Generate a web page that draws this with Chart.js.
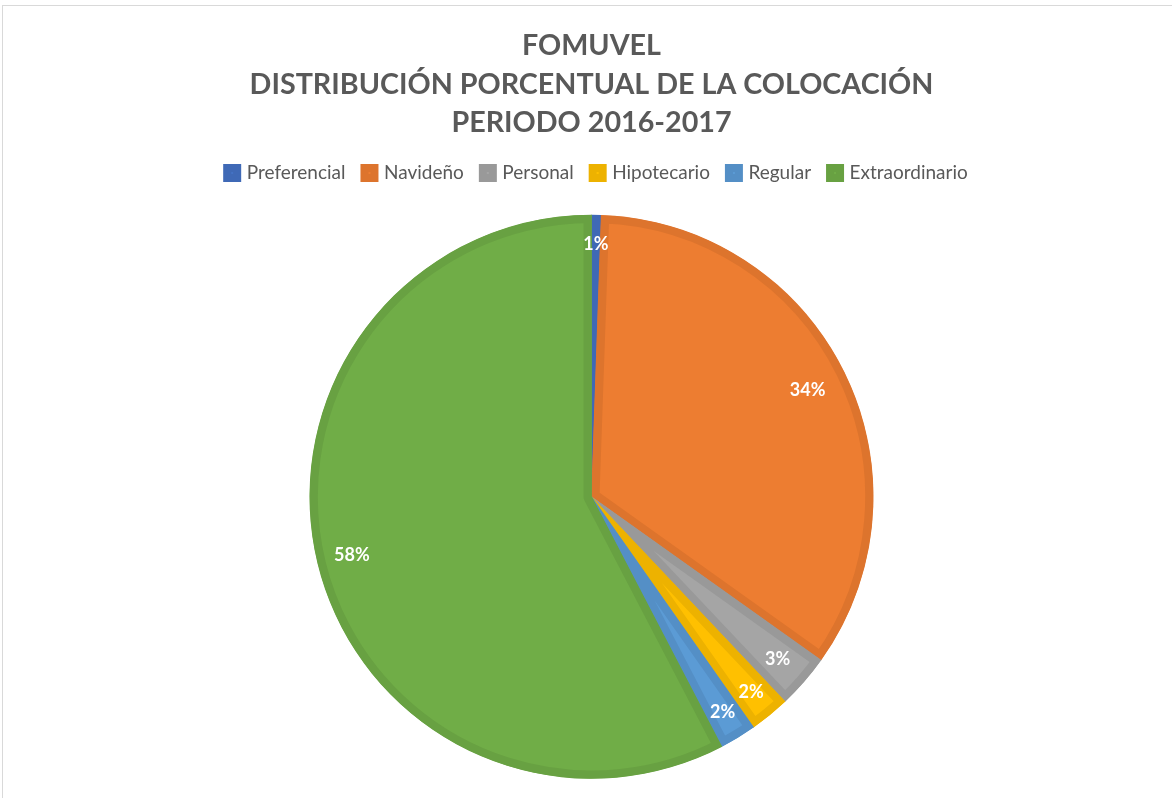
<!DOCTYPE html>
<html>
<head>
<meta charset="utf-8">
<script src="https://cdn.jsdelivr.net/npm/chart.js@4.4.1/dist/chart.umd.min.js"></script>
<style>
  html, body { margin: 0; padding: 0; background: #ffffff; }
  #marco { position: absolute; left: 2px; top: 5px; width: 1300px; height: 900px; border-left: 1px solid #d9d9d9; border-top: 1px solid #d9d9d9; }
  #caja { position: absolute; left: 0; top: 0; width: 1172px; height: 798px; }
</style>
</head>
<body>
<div id="marco"></div>
<div id="caja"><canvas id="grafico" width="1172" height="798"></canvas></div>
<script>
// Datos
const categorias = ['Preferencial', 'Navideño', 'Personal', 'Hipotecario', 'Regular', 'Extraordinario'];
const porcentajes = [0.55, 34.3, 3.1, 2.3, 2.1, 57.65];
const colores = ['#4472C4', '#ED7D31', '#A5A5A5', '#FFC000', '#5B9BD5', '#70AD47'];
const bordes = ['#3F69B6', '#DD742D', '#999999', '#EDB200', '#548FC6', '#68A142'];
const titulo = ['FOMUVEL', 'DISTRIBUCIÓN PORCENTUAL DE LA COLOCACIÓN', 'PERIODO 2016-2017'];

// etiquetas blancas dentro de cada rebanada (las chicas van mas afuera)
const etiquetas = {
  id: 'etiquetas',
  afterDatasetsDraw(chart) {
    const ctx = chart.ctx;
    const meta = chart.getDatasetMeta(0);
    ctx.save();
    ctx.fillStyle = '#ffffff';
    ctx.font = 'bold 18px Lato';
    ctx.textAlign = 'center';
    ctx.textBaseline = 'middle';
    meta.data.forEach(function (arco, i) {
      const p = arco.getProps(['x', 'y', 'startAngle', 'endAngle', 'outerRadius'], true);
      const medio = (p.startAngle + p.endAngle) / 2;
      const v = porcentajes[i];
      const f = v < 3 ? 0.895 : (v > 30 && v < 50 ? 0.855 : 0.875);
      const r = p.outerRadius * f;
      ctx.fillText(Math.round(v) + '%', p.x + Math.cos(medio) * r, p.y + Math.sin(medio) * r);
    });
    ctx.restore();
  }
};

// un poco mas de aire bajo la leyenda y la leyenda algo a la derecha
const ajusteLeyenda = {
  id: 'ajusteLeyenda',
  beforeLayout(chart) {
    const lg = chart.legend;
    if (lg && !lg._ajustado) {
      const fitOriginal = lg.fit;
      lg.fit = function () {
        fitOriginal.call(this);
        this.height += 3;
      };
      lg._ajustado = true;
    }
  },
  afterLayout(chart) {
    chart.legend.left += 6;
    chart.legend.right += 6;
  }
};

const grafico = new Chart(document.getElementById('grafico'), {
  type: 'pie',
  data: {
    labels: categorias,
    datasets: [{
      data: porcentajes,
      backgroundColor: colores,
      borderColor: bordes,
      borderWidth: 8,
      borderAlign: 'inner'
    }]
  },
  plugins: [etiquetas, ajusteLeyenda],
  options: {
    responsive: false,
    animation: false,
    radius: 282,
    layout: { padding: { top: 27, bottom: 0, left: 11, right: 0 } },
    plugins: {
      title: {
        display: true,
        text: titulo,
        color: '#595959',
        font: { family: 'Lato', size: 28.7, weight: 'bold', lineHeight: 1.33 },
        padding: { top: 0, bottom: 3 }
      },
      legend: {
        position: 'top',
        labels: {
          color: '#595959',
          font: { family: 'Lato', size: 19 },
          boxWidth: 10,
          boxHeight: 10,
          padding: 19
        }
      },
      tooltip: { enabled: false }
    }
  }
});
</script>
</body>
</html>
